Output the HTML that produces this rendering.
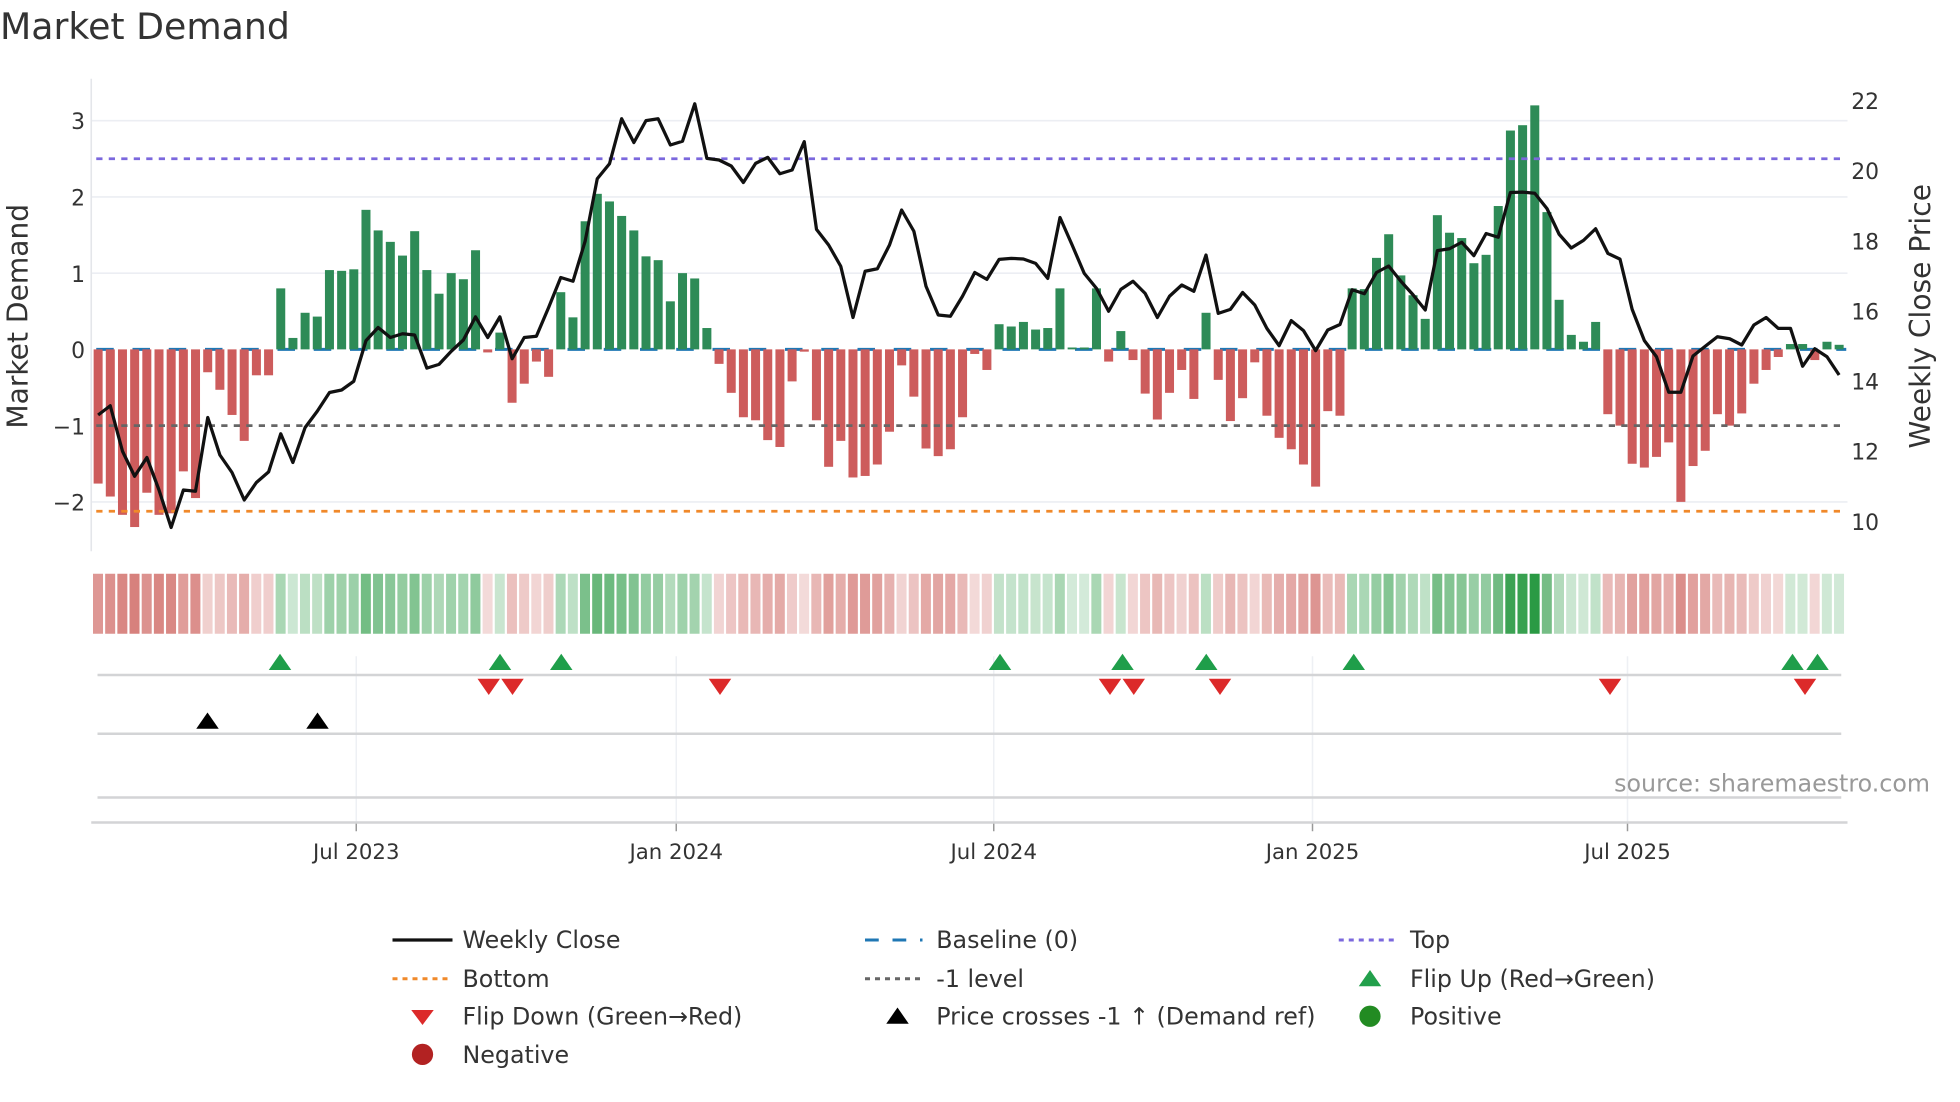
<!DOCTYPE html>
<html><head><meta charset="utf-8"><style>
html,body{margin:0;padding:0;background:#fff;}
svg{display:block;font-family:"DejaVu Sans","Liberation Sans",sans-serif;}
</style></head><body>
<svg id="c" width="1960" height="1102" viewBox="0 0 1568 881.6" xmlns="http://www.w3.org/2000/svg">
<rect width="1568" height="881.6" fill="#fff"/>
<text x="0" y="31" font-size="29" fill="#333">Market Demand</text>
<g id="grid"></g>
<g id="bars"></g>
<g id="lines"></g>
<g id="heat"></g>
<g id="low"></g>
<text x="68" y="103" font-size="17.5" fill="#333" text-anchor="end">3</text>
<text x="68" y="164.5" font-size="17.5" fill="#333" text-anchor="end">2</text>
<text x="68" y="225.5" font-size="17.5" fill="#333" text-anchor="end">1</text>
<text x="68" y="286.5" font-size="17.5" fill="#333" text-anchor="end">0</text>
<text x="68" y="347.5" font-size="17.5" fill="#333" text-anchor="end">−1</text>
<text x="68" y="408.5" font-size="17.5" fill="#333" text-anchor="end">−2</text>
<text x="1481" y="87" font-size="17.5" fill="#333">22</text>
<text x="1481" y="143" font-size="17.5" fill="#333">20</text>
<text x="1481" y="199.5" font-size="17.5" fill="#333">18</text>
<text x="1481" y="255.5" font-size="17.5" fill="#333">16</text>
<text x="1481" y="311.5" font-size="17.5" fill="#333">14</text>
<text x="1481" y="367.5" font-size="17.5" fill="#333">12</text>
<text x="1481" y="424" font-size="17.5" fill="#333">10</text>
<text transform="translate(22,253) rotate(-90)" font-size="22.5" fill="#333" text-anchor="middle">Market Demand</text>
<text transform="translate(1544,253) rotate(-90)" font-size="22.5" fill="#333" text-anchor="middle">Weekly Close Price</text>
<text x="1544" y="633" font-size="19" fill="#999" text-anchor="end">source: sharemaestro.com</text>
<g font-size="17" fill="#333" text-anchor="middle">
<text x="285" y="687">Jul 2023</text>
<text x="541" y="687">Jan 2024</text>
<text x="795" y="687">Jul 2024</text>
<text x="1050" y="687">Jan 2025</text>
<text x="1302" y="687">Jul 2025</text>
</g>
<g font-size="19" fill="#333">
<line x1="314" y1="752" x2="362" y2="752" stroke="#111" stroke-width="2.6"/>
<text x="370" y="758.5">Weekly Close</text>
<line x1="692" y1="752" x2="738" y2="752" stroke="#1f77b4" stroke-width="2.4" stroke-dasharray="11,11"/>
<text x="749" y="758.5">Baseline (0)</text>
<line x1="1071" y1="752" x2="1117" y2="752" stroke="#7b68dd" stroke-width="2.4" stroke-dasharray="4,4"/>
<text x="1128" y="758.5">Top</text>
<line x1="314" y1="783" x2="362" y2="783" stroke="#f0892a" stroke-width="2.4" stroke-dasharray="4,4"/>
<text x="370" y="789.5">Bottom</text>
<line x1="692" y1="783" x2="738" y2="783" stroke="#666" stroke-width="2.4" stroke-dasharray="4,4"/>
<text x="749" y="789.5">-1 level</text>
<polygon points="1087,789 1105,789 1096,776" fill="#22a04b"/>
<text x="1128" y="789.5">Flip Up (Red→Green)</text>
<polygon points="329,808 347,808 338,820" fill="#dc2a2a"/>
<text x="370" y="819.5">Flip Down (Green→Red)</text>
<polygon points="709,819 727,819 718,806" fill="#000"/>
<text x="749" y="819.5">Price crosses -1 ↑ (Demand ref)</text>
<circle cx="1096" cy="813" r="8.5" fill="#228b22"/>
<text x="1128" y="819.5">Positive</text>
<circle cx="338" cy="843.5" r="8.5" fill="#b22222"/>
<text x="370" y="850.5">Negative</text>
</g>
</svg>
<script>
var NS="http://www.w3.org/2000/svg";
function el(p,t,a){var e=document.createElementNS(NS,t);for(var k in a)e.setAttribute(k,a[k]);document.getElementById(p).appendChild(e);return e;}
var v=[-1.76,-1.93,-2.17,-2.33,-1.88,-2.17,-2.15,-1.6,-1.95,-0.3,-0.53,-0.86,-1.2,-0.34,-0.34,0.8,0.15,0.48,0.43,1.04,1.03,1.05,1.83,1.56,1.41,1.23,1.55,1.04,0.73,1.0,0.92,1.3,-0.04,0.22,-0.7,-0.45,-0.16,-0.36,0.75,0.42,1.68,2.04,1.94,1.75,1.56,1.22,1.17,0.63,1.0,0.93,
0.28,-0.19,-0.57,-0.89,-0.93,-1.19,-1.28,-0.42,-0.03,-0.93,-1.54,-1.2,-1.68,-1.66,-1.51,-1.08,-0.21,-0.62,-1.3,-1.4,-1.31,-0.89,-0.06,-0.27,0.33,0.3,0.36,0.26,0.28,0.8,0.02,0.02,0.8,-0.16,0.24,-0.14,-0.58,-0.92,-0.57,-0.27,-0.65,0.48,-0.4,-0.94,-0.64,-0.17,-0.87,-1.16,-1.31,-1.51,-1.8,-0.81,
-0.87,0.8,0.79,1.2,1.51,0.97,0.71,0.4,1.76,1.53,1.46,1.13,1.24,1.88,2.87,2.94,3.2,1.8,0.65,0.19,0.1,0.36,-0.85,-1.0,-1.5,-1.55,-1.41,-1.22,-2.0,-1.53,-1.33,-0.85,-1.0,-0.84,-0.45,-0.27,-0.1,0.07,0.07,-0.14,0.1,0.06];
var p=[332,324.6,361,381,366,392,422,392,393,334,364,378,400,386,377.5,347,370,342,329,314,312,305,272.5,262,270,267,268,294.5,291.5,281,272,253.5,270,253.5,287,270,269,246,222,225,193,143,131,95,114,96.5,95,116,113,83,
126.7,128,132.8,146,130.7,125.9,139,136,113.3,183.5,196,213,254,217,215,196,168,185,229,252,253,237,218,223.5,207.5,206.7,207.2,210.7,222.7,174,196,218.7,230.7,249,231.5,225,234.7,254,237,228,233,204,250.7,247.5,234,244,262.7,276.5,256.5,264.5,280.5,264,
259.6,231.8,235,218,212.8,225,235.8,248,200.5,199,193.8,204.5,186.8,189.8,154,153.7,154.6,166.9,187.4,198.4,192.3,183,202.7,207.3,247.4,272.5,285.4,313.8,313.8,284.8,277,269.4,271,276,260,254,262.7,262.7,293,279,285.4,300];
var X=function(i){return 78.5+9.74*i;}, Y=function(val){return 279.5-61*val;};
[3,2,1,-2].forEach(function(g){el("grid","line",{x1:73,x2:1478,y1:Y(g),y2:Y(g),stroke:"#eceef3","stroke-width":1.3});});
el("grid","line",{x1:73,x2:73,y1:63,y2:441,stroke:"#e4e6ea","stroke-width":1.3});
el("grid","line",{x1:77,x2:1477,y1:279.5,y2:279.5,stroke:"#1f77b4","stroke-width":2.4,"stroke-dasharray":"14,15"});
v.forEach(function(val,i){var y0=Y(0),y1=Y(val);var h=Math.abs(y1-y0);if(h<1.5)h=1.5;
el("bars","rect",{x:X(i)-3.6,y:val>=0?y0-h:y0,width:7.2,height:h,fill:val>=0?"#2e8b57":"#cd5c5c"});});
el("lines","line",{x1:77,x2:1477,y1:127,y2:127,stroke:"#7b68dd","stroke-width":2.2,"stroke-dasharray":"5,5"});
el("lines","line",{x1:77,x2:1477,y1:340.5,y2:340.5,stroke:"#666","stroke-width":2.2,"stroke-dasharray":"5,5"});
el("lines","line",{x1:77,x2:1477,y1:409,y2:409,stroke:"#f0892a","stroke-width":2.2,"stroke-dasharray":"5,5"});
var pts=p.map(function(y,i){return X(i).toFixed(1)+","+y;}).join(" ");
el("lines","polyline",{points:pts,fill:"none",stroke:"#111","stroke-width":2.6,"stroke-linejoin":"round"});
function mix(c,t){return "rgb("+c.map(function(x){return Math.round(255-(255-x)*t);}).join(",")+")";}
v.forEach(function(val,i){var t,c;if(val>=0){t=Math.min(1,0.2+0.25*val);c=[42,154,68];}else{t=Math.min(1,0.19+0.21*(-val));c=[196,69,63];}
el("heat","rect",{x:X(i)-4.1,y:459,width:8,height:48,fill:mix(c,t)});});
[285,541,795,1050,1302].forEach(function(x){el("low","line",{x1:x,x2:x,y1:525,y2:658,stroke:"#eef0f4","stroke-width":1.2});el("low","line",{x1:x,x2:x,y1:658,y2:665,stroke:"#999","stroke-width":1.2});});
[540,587,638].forEach(function(y){el("low","line",{x1:78,x2:1473,y1:y,y2:y,stroke:"#d3d4d6","stroke-width":2});});
el("low","line",{x1:73,x2:1478,y1:658,y2:658,stroke:"#d3d4d6","stroke-width":2});
function up(x,y,c){el("low","polygon",{points:(x-9)+","+(y+6)+" "+(x+9)+","+(y+6)+" "+x+","+(y-7),fill:c});}
function dn(x,y,c){el("low","polygon",{points:(x-9)+","+(y-6)+" "+(x+9)+","+(y-6)+" "+x+","+(y+7),fill:c});}
[224,400,449,800,898,965,1083,1434,1454].forEach(function(x){up(x,530,"#1f9e4a");});
[391,410,576,888,907,976,1288,1444].forEach(function(x){dn(x,549,"#dc2a2a");});
[166,254].forEach(function(x){up(x,577,"#000");});
</script>
</body></html>
